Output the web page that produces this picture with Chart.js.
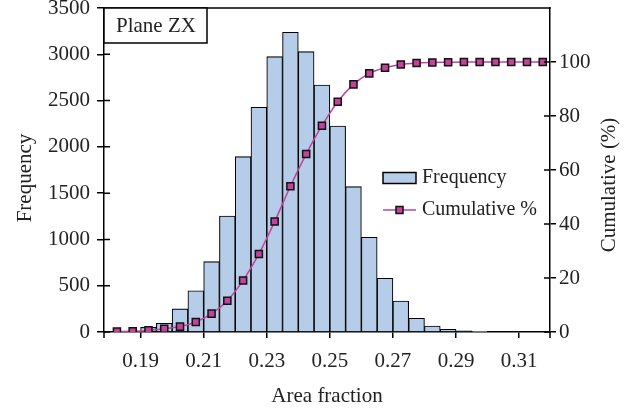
<!DOCTYPE html>
<html>
<head>
<meta charset="utf-8">
<script src="https://cdn.jsdelivr.net/npm/chart.js@4.4.0/dist/chart.umd.min.js"></script>
<style>
html, body { margin: 0; padding: 0; background: #fff; }
#wrap { width: 633px; height: 412px; }
</style>
</head>
<body>
<div id="wrap"><canvas id="grafico" width="633" height="412"></canvas></div>
<script>
// histogram bins (centre of each 0.005 wide bin) and counts
const binCenters = [0.1925, 0.1975, 0.2025, 0.2075, 0.2125, 0.2175, 0.2225, 0.2275,
    0.2325, 0.2375, 0.2425, 0.2475, 0.2525, 0.2575, 0.2625, 0.2675, 0.2725, 0.2775,
    0.2825, 0.2875, 0.2925, 0.2975];
const frequency = [50, 94, 250, 446, 760, 1253, 1894, 2427,
    2974, 3237, 3028, 2668, 2225, 1570, 1023, 580, 335, 148,
    65, 29, 12, 4];

// cumulative % points
const cumCenters = [0.1825, 0.1875, 0.1925, 0.1975, 0.2025, 0.2075, 0.2125, 0.2175,
    0.2225, 0.2275, 0.2325, 0.2375, 0.2425, 0.2475, 0.2525, 0.2575, 0.2625, 0.2675,
    0.2725, 0.2775, 0.2825, 0.2875, 0.2925, 0.2975, 0.3025, 0.3075, 0.3125, 0.3175];
const cumulative = [0.2, 0.3, 0.6, 1.2, 2.0, 3.7, 6.8, 11.6,
    19.1, 28.9, 40.9, 54.0, 65.9, 76.4, 85.3, 91.7, 95.8, 97.9,
    99.1, 99.6, 99.8, 99.9, 100, 100, 100, 100, 100, 100];

// tick labels
const xTicks = [0.19, 0.21, 0.23, 0.25, 0.27, 0.29, 0.31];
const freqTicks = [0, 500, 1000, 1500, 2000, 2500, 3000, 3500];
const cumTicks = [0, 20, 40, 60, 80, 100];

const FONTE = 'Liberation Serif';
const TAM = 21;
const corTexto = '#222';
const corBarra = '#b6cde9';
const corLinha = '#c2449a';

// frame, inner ticks, y titles, label box and legend
const extras = {
    id: 'extras',
    afterDraw(chart) {
        const { ctx, chartArea: a, scales } = chart;
        ctx.save();
        ctx.strokeStyle = '#000';
        ctx.lineWidth = 1.5;

        ctx.beginPath();
        ctx.moveTo(a.left - 0.75, a.top);
        ctx.lineTo(a.right + 0.75, a.top);
        // axes run a little below the base line
        ctx.moveTo(a.left, a.bottom);
        ctx.lineTo(a.left, a.bottom + 6);
        ctx.moveTo(a.right, a.bottom);
        ctx.lineTo(a.right, a.bottom + 6);
        // ticks crossing into the plot
        freqTicks.forEach(v => {
            const y = scales.y.getPixelForValue(v);
            ctx.moveTo(a.left, y);
            ctx.lineTo(a.left + 6, y);
        });
        cumTicks.forEach(v => {
            const y = scales.y2.getPixelForValue(v);
            ctx.moveTo(a.right - 6, y);
            ctx.lineTo(a.right, y);
        });
        ctx.stroke();

        ctx.fillStyle = corTexto;
        ctx.font = TAM + 'px "' + FONTE + '"';
        ctx.textAlign = 'center';
        ctx.textBaseline = 'middle';

        // both y titles read bottom to top
        [['Frequency', 25, 178], ['Cumulative (%)', 609, 185]].forEach(([txt, x, y]) => {
            ctx.save();
            ctx.translate(x, y);
            ctx.rotate(-Math.PI / 2);
            ctx.fillText(txt, 0, 0);
            ctx.restore();
        });

        // "Plane ZX" box
        ctx.fillStyle = '#fff';
        ctx.fillRect(a.left, a.top, 103, 35);
        ctx.strokeRect(a.left, a.top, 103, 35);
        ctx.fillStyle = corTexto;
        ctx.textAlign = 'left';
        ctx.fillText('Plane ZX', a.left + 12, a.top + 18);

        // legend
        ctx.font = '20px "' + FONTE + '"';
        const lx = 383, ly1 = 178, ly2 = 210;
        ctx.fillStyle = corBarra;
        ctx.fillRect(lx, ly1 - 5.5, 33, 11);
        ctx.strokeRect(lx, ly1 - 5.5, 33, 11);
        ctx.strokeStyle = corLinha;
        ctx.beginPath();
        ctx.moveTo(lx, ly2);
        ctx.lineTo(lx + 33, ly2);
        ctx.stroke();
        ctx.fillStyle = corLinha;
        ctx.strokeStyle = '#111';
        ctx.fillRect(lx + 13, ly2 - 3.5, 7, 7);
        ctx.strokeRect(lx + 13, ly2 - 3.5, 7, 7);
        ctx.fillStyle = corTexto;
        ctx.fillText('Frequency', lx + 39, ly1);
        ctx.fillText('Cumulative %', lx + 39, ly2);

        ctx.restore();
    }
};

const eixoBase = {
    grid: { display: true, drawOnChartArea: false, drawTicks: true, color: '#000', lineWidth: 1.5, offset: false },
    border: { display: true, color: '#000', width: 1.5 },
    ticks: { color: corTexto, font: { family: FONTE, size: TAM } }
};

function semPadding(s) {
    s.paddingTop = 0;
    s.paddingBottom = 0;
    s.paddingLeft = 0;
    s.paddingRight = 0;
}

new Chart(document.getElementById('grafico').getContext('2d'), {
    data: {
        datasets: [
            {
                type: 'line',
                label: 'Cumulative %',
                data: cumCenters.map((x, i) => ({ x: x, y: cumulative[i] })),
                yAxisID: 'y2',
                borderColor: corLinha,
                borderWidth: 1.5,
                cubicInterpolationMode: 'monotone',
                pointStyle: 'rect',
                pointRadius: 5,
                pointBackgroundColor: corLinha,
                pointBorderColor: '#111',
                pointBorderWidth: 1.5,
                order: 0
            },
            {
                type: 'bar',
                label: 'Frequency',
                data: binCenters.map((x, i) => ({ x: x, y: frequency[i] })),
                yAxisID: 'y',
                backgroundColor: corBarra,
                borderColor: '#000',
                borderWidth: 1.1,
                barPercentage: 1,
                categoryPercentage: 1,
                order: 1
            }
        ]
    },
    options: {
        responsive: false,
        animation: false,
        devicePixelRatio: 1,
        layout: { padding: { top: 8, left: 0, right: 0, bottom: 0 } },
        plugins: { legend: { display: false }, tooltip: { enabled: false } },
        scales: {
            x: {
                type: 'linear',
                position: 'bottom',
                offset: false,
                min: 0.1784,
                max: 0.3198,
                grid: { ...eixoBase.grid, tickLength: 6 },
                border: eixoBase.border,
                ticks: { ...eixoBase.ticks, padding: 11, maxRotation: 0, autoSkip: false,
                    callback: v => v.toFixed(2) },
                afterBuildTicks: s => { s.ticks = xTicks.map(v => ({ value: v })); },
                afterFit: s => { s.height = 80; semPadding(s); },
                title: { display: true, text: 'Area fraction', color: corTexto,
                    font: { family: FONTE, size: TAM }, padding: { top: 0, bottom: 3 } }
            },
            y: {
                type: 'linear',
                position: 'left',
                min: 0,
                max: 3500,
                grid: { ...eixoBase.grid, tickLength: 7 },
                border: eixoBase.border,
                ticks: { ...eixoBase.ticks, padding: 7, callback: v => String(v) },
                afterBuildTicks: s => { s.ticks = freqTicks.map(v => ({ value: v })); },
                afterFit: s => { s.width = 104; semPadding(s); }
            },
            y2: {
                type: 'linear',
                position: 'right',
                min: 0,
                max: 120,
                grid: { ...eixoBase.grid, tickLength: 6 },
                border: eixoBase.border,
                ticks: { ...eixoBase.ticks, padding: 3, callback: v => String(v) },
                afterBuildTicks: s => { s.ticks = cumTicks.map(v => ({ value: v })); },
                afterFit: s => { s.width = 83; semPadding(s); }
            }
        }
    },
    plugins: [extras]
});
</script>
</body>
</html>
